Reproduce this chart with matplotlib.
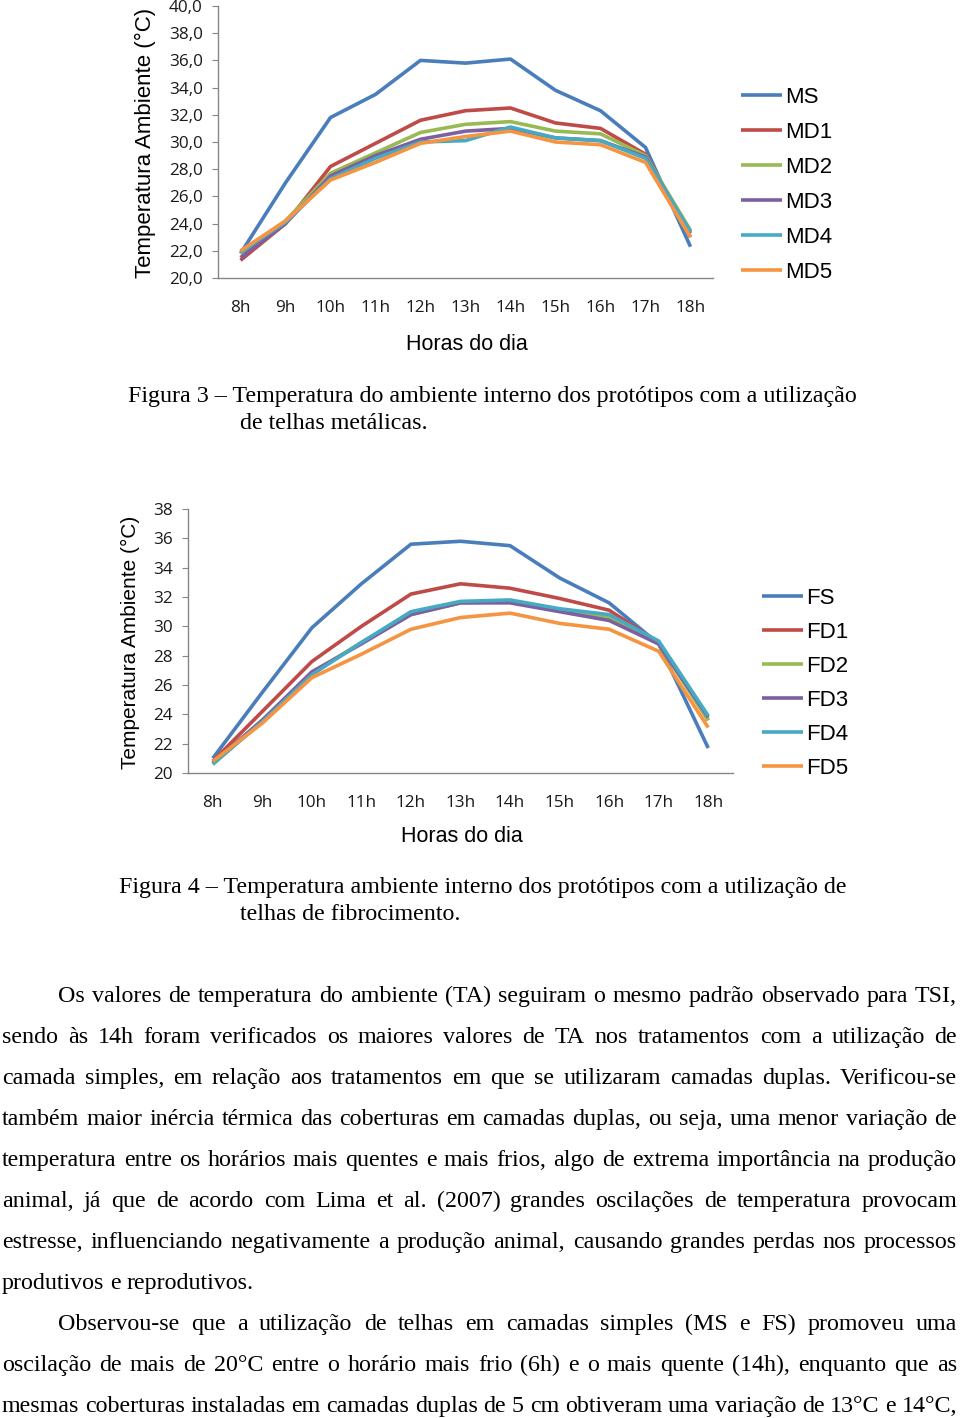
''' temperatura ambiente - figuras 3 e 4 '''
import matplotlib
matplotlib.use('Agg')
import matplotlib.pyplot as plt
from matplotlib.ticker import FuncFormatter

W, H = 960, 1418

horas = ['8h', '9h', '10h', '11h', '12h', '13h', '14h', '15h', '16h', '17h', '18h']

# Figura 3 - telhas metalicas
metal_names = ['MS', 'MD1', 'MD2', 'MD3', 'MD4', 'MD5']
ms = [21.8, 27.0, 31.8, 33.5, 36.0, 35.8, 36.1, 33.8, 32.3, 29.6, 22.3]
md1 = [21.3, 24.0, 28.2, 29.9, 31.6, 32.3, 32.5, 31.4, 31.0, 29.1, 23.0]
md2 = [21.8, 24.2, 27.7, 29.2, 30.7, 31.3, 31.5, 30.8, 30.6, 29.0, 23.5]
md3 = [21.5, 24.0, 27.5, 29.0, 30.2, 30.8, 31.0, 30.3, 30.1, 28.9, 23.3]
md4 = [21.9, 24.1, 27.3, 28.8, 30.0, 30.1, 31.1, 30.3, 30.1, 28.8, 23.4]
md5 = [22.0, 24.2, 27.2, 28.5, 29.9, 30.4, 30.8, 30.0, 29.8, 28.5, 23.0]

# Figura 4 - telhas de fibrocimento
fibro_names = ['FS', 'FD1', 'FD2', 'FD3', 'FD4', 'FD5']
fs = [21.0, 25.5, 29.9, 32.9, 35.6, 35.8, 35.5, 33.3, 31.6, 28.8, 21.7]
fd1 = [20.8, 24.2, 27.6, 30.0, 32.2, 32.9, 32.6, 31.9, 31.1, 28.9, 23.6]
fd2 = [20.6, 23.6, 26.8, 28.9, 30.8, 31.6, 31.7, 31.1, 30.6, 28.8, 23.6]
fd3 = [20.7, 23.6, 26.9, 28.8, 30.8, 31.6, 31.6, 31.0, 30.4, 28.8, 23.8]
fd4 = [20.6, 23.5, 26.7, 28.9, 31.0, 31.7, 31.8, 31.2, 30.8, 29.0, 23.9]
fd5 = [20.8, 23.4, 26.5, 28.1, 29.8, 30.6, 30.9, 30.2, 29.8, 28.3, 23.1]

colors = ['#4A7EBB', '#BE4B48', '#98B954', '#7D60A0', '#46AAC5', '#F59441']

caption3 = ['Figura 3 \u2013 Temperatura do ambiente interno dos prot\u00f3tipos com a utiliza\u00e7\u00e3o',
            'de telhas met\u00e1licas.']
caption4 = ['Figura 4 \u2013 Temperatura ambiente interno dos prot\u00f3tipos com a utiliza\u00e7\u00e3o de',
            'telhas de fibrocimento.']

body = [
    ('Os valores de temperatura do ambiente (TA) seguiram o mesmo padr\u00e3o observado para TSI,', True, True),
    ('sendo \u00e0s 14h foram verificados os maiores valores de TA nos tratamentos com a utiliza\u00e7\u00e3o de', False, True),
    ('camada simples, em rela\u00e7\u00e3o aos tratamentos em que se utilizaram camadas duplas. Verificou-se', False, True),
    ('tamb\u00e9m maior in\u00e9rcia t\u00e9rmica das coberturas em camadas duplas, ou seja, uma menor varia\u00e7\u00e3o de', False, True),
    ('temperatura entre os hor\u00e1rios mais quentes e mais frios, algo de extrema import\u00e2ncia na produ\u00e7\u00e3o', False, True),
    ('animal, j\u00e1 que de acordo com Lima et al. (2007) grandes oscila\u00e7\u00f5es de temperatura provocam', False, True),
    ('estresse, influenciando negativamente a produ\u00e7\u00e3o animal, causando grandes perdas nos processos', False, True),
    ('produtivos e reprodutivos.', False, False),
    ('Observou-se que a utiliza\u00e7\u00e3o de telhas em camadas simples (MS e FS) promoveu uma', True, True),
    ('oscila\u00e7\u00e3o de mais de 20\u00b0C entre o hor\u00e1rio mais frio (6h) e o mais quente (14h), enquanto que as', False, True),
    ('mesmas coberturas instaladas em camadas duplas de 5 cm obtiveram uma varia\u00e7\u00e3o de 13\u00b0C e 14\u00b0C,', False, True),
]

SERIF = 'Liberation Serif'
SANS = 'Liberation Sans'
TICKF = 'Open Sans'
GRAY = '#868686'

fig = plt.figure(figsize=(W / 100, H / 100), dpi=100)


def frac(x, y):
    return x / W, 1 - y / H


def make_chart(left, right, top, bottom, series, names, ylim, ystep, fmt,
               ylab_x, ylab_size, xlab_y, leg_x, leg_y, leg_space):
    ax = fig.add_axes([left / W, 1 - bottom / H, (right - left) / W, (bottom - top) / H])
    x = list(range(len(horas)))
    for vals, name, c in zip(series, names, colors):
        ax.plot(x, vals, color=c, lw=2.6, label=name, solid_joinstyle='round', solid_capstyle='butt')
    ax.set_xlim(-0.5, len(horas) - 0.5)
    ax.set_ylim(*ylim)
    ax.set_yticks(range(ylim[0], ylim[1] + 1, ystep))
    ax.yaxis.set_major_formatter(FuncFormatter(fmt))
    ax.set_xticks(x)
    ax.set_xticklabels(horas)
    for s in ['top', 'right']:
        ax.spines[s].set_visible(False)
    for s in ['left', 'bottom']:
        ax.spines[s].set_color(GRAY)
        ax.spines[s].set_linewidth(1.0)
    ax.tick_params(axis='y', direction='out', length=4, color=GRAY, pad=7, labelsize=12.3)
    ax.tick_params(axis='x', length=0, pad=16, labelsize=12.3)
    for lab in ax.get_xticklabels() + ax.get_yticklabels():
        lab.set_fontfamily(TICKF)
        lab.set_color('#1a1a1a')
    ax.set_facecolor('none')
    fig.text(*frac(ylab_x, (top + bottom) / 2 + 1), 'Temperatura Ambiente (\u00b0C)', rotation=90,
             ha='center', va='center', fontsize=ylab_size, family=SANS)
    fig.text(*frac((left + right) / 2 + 1, xlab_y), 'Horas do dia', ha='center', va='center',
             fontsize=15.5, family=SANS)
    leg = ax.legend(loc='upper left', bbox_to_anchor=frac(leg_x, leg_y), bbox_transform=fig.transFigure,
                    frameon=False, prop={'family': SANS, 'size': 16}, handlelength=1.85,
                    handletextpad=0.12, labelspacing=leg_space, borderpad=0, borderaxespad=0)
    for h in leg.get_lines():
        h.set_linewidth(2.6)
    return ax


make_chart(218, 713, 6, 278, [ms, md1, md2, md3, md4, md5], metal_names, (20, 40), 2,
           lambda v, p: f'{v:.1f}'.replace('.', ','), 145, 16, 345, 741, 87, 0.63)
make_chart(188, 733, 509, 773, [fs, fd1, fd2, fd3, fd4, fd5], fibro_names, (20, 38), 2,
           lambda v, p: f'{v:.0f}', 130, 15, 837, 762, 588, 0.585)

# captions
fs_txt = 17.3
fig.text(*frac(128, 402), caption3[0], fontsize=fs_txt, family=SERIF, va='baseline')
fig.text(*frac(240, 429), caption3[1], fontsize=fs_txt, family=SERIF, va='baseline')
fig.text(*frac(119, 893), caption4[0], fontsize=fs_txt, family=SERIF, va='baseline')
fig.text(*frac(240, 920), caption4[1], fontsize=fs_txt, family=SERIF, va='baseline')

# justified body text
renderer = fig.canvas.get_renderer()
x_left, x_right, indent = 2, 957, 58
y0, dy = 1002, 41


def word_width(w):
    t = fig.text(0, 0, w, fontsize=fs_txt, family=SERIF)
    wd = t.get_window_extent(renderer).width
    t.remove()
    return wd


space_w = word_width('a a') - word_width('aa')
for i, (line, indented, justify) in enumerate(body):
    y = y0 + i * dy
    start = x_left + (indent - x_left if indented else 0)
    words = line.split(' ')
    widths = [word_width(w) for w in words]
    if justify and len(words) > 1:
        gap = (x_right - start - sum(widths)) / (len(words) - 1)
    else:
        gap = space_w
    xpos = start
    for w, wd in zip(words, widths):
        fig.text(*frac(xpos, y), w, fontsize=fs_txt, family=SERIF, va='baseline')
        xpos += wd + gap

fig.savefig('out.png', dpi=100, facecolor='white')
